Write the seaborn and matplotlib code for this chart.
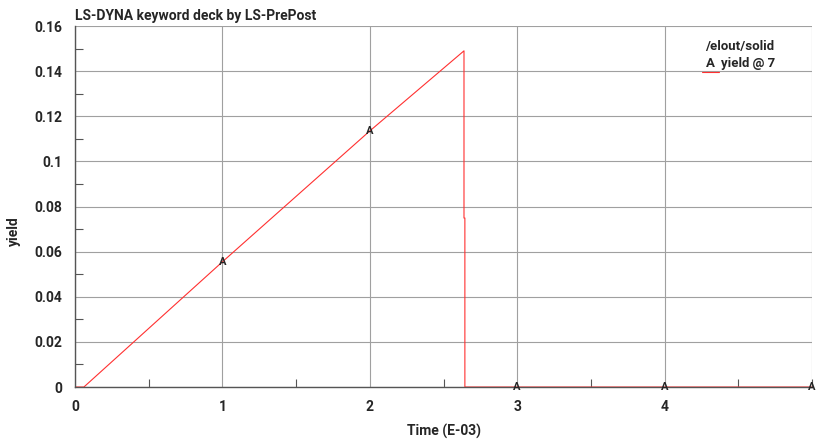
import seaborn as sns
import matplotlib.pyplot as plt
from matplotlib.lines import Line2D
from matplotlib.ticker import MultipleLocator
import pandas as pd

# time history of element 7 yield (time in E-03)
time = [0.0, 0.06, 1.0, 2.0, 2.639, 2.639, 2.645, 2.645, 3.0, 4.0, 5.0]
yld = [0.0, 0.0, 0.0555, 0.1135, 0.149, 0.0749, 0.0749, 0.0, 0.0, 0.0, 0.0]

marker_t = [1.0, 2.0, 3.0, 4.0, 5.0]
marker_y = [0.0555, 0.1135, 0.0, 0.0, 0.0]

sns.set_style("white")
plt.rcParams['font.family'] = ['Roboto', 'DejaVu Sans']

df = pd.DataFrame({"t": time, "y": yld})

fig = plt.figure(figsize=(8.21, 4.41), dpi=100)
ax = fig.add_axes([0.0914, 0.1224, 0.8976, 0.8186])

sns.lineplot(data=df, x="t", y="y", ax=ax, color="#ff3030", linewidth=0.8,
             sort=False, estimator=None)

for t, v in zip(marker_t, marker_y):
    ax.text(t, v, "A", ha="center", va="center", fontsize=8, fontweight="bold")

ax.set_xlim(0, 5)
ax.set_ylim(0, 0.16)
ax.xaxis.set_minor_locator(MultipleLocator(0.5))
ax.yaxis.set_minor_locator(MultipleLocator(0.01))
ax.set_xticks([0, 1, 2, 3, 4])
ax.set_yticks([0, 0.02, 0.04, 0.06, 0.08, 0.1, 0.12, 0.14, 0.16])
ax.set_yticklabels(["0", "0.02", "0.04", "0.06", "0.08", "0.1", "0.12", "0.14", "0.16"])

ax.grid(True, which="major", color="#a0a0a0", linewidth=0.8)
ax.axvline(5, color="#a0a0a0", linewidth=0.8)
ax.tick_params(which="major", direction="out", length=7, width=0.8, color="#555555",
               labelsize=10, pad=2)
ax.tick_params(which="minor", direction="in", length=6, width=0.8, color="#555555",
               bottom=True, left=True)
for lbl in ax.get_xticklabels() + ax.get_yticklabels():
    lbl.set_fontweight("bold")

for side in ["top", "right"]:
    ax.spines[side].set_visible(False)
for side in ["left", "bottom"]:
    ax.spines[side].set_color("#555555")
    ax.spines[side].set_linewidth(1.0)

ax.set_xlabel("Time (E-03)", fontsize=10, fontweight="bold")
ax.set_ylabel("yield", fontsize=10, fontweight="bold")
ax.xaxis.set_label_coords(0.5, -0.103)
ax.yaxis.set_label_coords(-0.073, 0.43)
ax.set_title("LS-DYNA keyword deck by LS-PrePost", loc="left", fontsize=10,
             fontweight="bold", pad=4)

# legend block
ax.text(0.902, 0.944, "/elout/solid", transform=ax.transAxes, ha="center", va="center",
        fontsize=9.5, fontweight="bold")
ax.text(0.856, 0.897, "A", transform=ax.transAxes, ha="left", va="center",
        fontsize=9.5, fontweight="bold")
ax.text(0.876, 0.897, "yield @ 7", transform=ax.transAxes, ha="left", va="center",
        fontsize=9.5, fontweight="bold")
ax.add_line(Line2D([0.851, 0.874], [0.872, 0.872], transform=ax.transAxes,
                   color="#ff3030", linewidth=0.8))

fig.savefig("out.png", dpi=100)
